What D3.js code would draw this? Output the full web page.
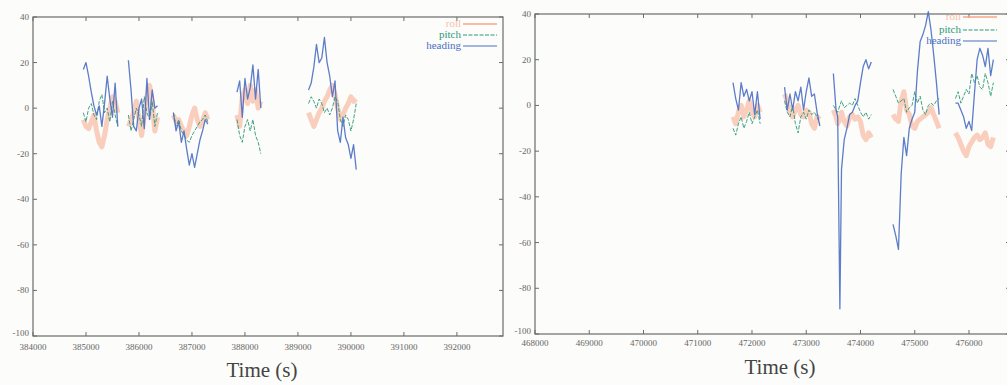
<!DOCTYPE html>
<html>
<head>
<meta charset="utf-8">
<script src="https://cdn.jsdelivr.net/npm/d3@7"></script>
<style>
  body { margin: 0; background: #fcfcfa; }
  svg { display: block; }
  .tick-label { font-family: "Liberation Serif", "DejaVu Serif", serif; font-size: 9px; fill: #666; }
  .axis-title { font-family: "Liberation Serif", "DejaVu Serif", serif; font-size: 21px; fill: #444; }
  .legend-label { font-family: "Liberation Serif", "DejaVu Serif", serif; font-size: 11px; }
</style>
</head>
<body>
<div id="chart"></div>
<script>
// tick values
const yTicks = [40, 20, 0, -20, -40, -60, -80, -100];
const leftXTicks = [384000, 385000, 386000, 387000, 388000, 389000, 390000, 391000, 392000];
const rightXTicks = [468000, 469000, 470000, 471000, 472000, 473000, 474000, 475000, 476000];
const seriesNames = ["roll", "pitch", "heading"];

// left panel, one inner array per recorded segment
const leftTime = [
    [384950, 385000, 385050, 385100, 385150, 385200, 385250, 385300, 385350, 385400, 385450, 385500, 385550, 385600],
    [385800, 385850, 385900, 385950, 386000, 386050, 386100, 386150, 386200, 386250, 386300, 386350],
    [386650, 386700, 386750, 386800, 386850, 386900, 386950, 387000, 387050, 387100, 387150, 387200, 387250, 387300],
    [387850, 387900, 387950, 388000, 388050, 388100, 388150, 388200, 388250, 388300],
    [389200, 389250, 389300, 389350, 389400, 389450, 389500, 389550, 389600, 389650, 389700, 389750, 389800, 389850, 389900, 389950, 390000, 390050, 390100]
];
const leftRoll = [
    [-5, -8, -9, -6, -3, -10, -15, -17, -12, -5, 0, 5, 3, -2],
    [-8, -5, -2, 3, -5, -12, -3, 5, 10, 2, -10, -4],
    [-3, -6, -5, -8, -10, -12, -8, -3, 0, -5, -8, -6, -2, -5],
    [-3, -8, 5, 8, 2, 10, 3, 8, 0, 3],
    [-2, -5, -8, -5, -2, 0, 3, 5, 8, 10, 6, 0, -5, -3, 0, 2, 5, 3, 4]
];
const leftPitch = [
    [-2, -6, 0, 2, -3, -5, 3, 6, -2, 0, -6, 3, -3, -8],
    [-3, -10, -5, 0, -3, -8, 5, -2, -5, 3, -8, -2],
    [-2, -8, -5, -10, -12, -14, -15, -12, -10, -8, -6, -5, -3, -6],
    [-5, -12, -15, -8, -5, -10, -5, -12, -15, -20],
    [2, 5, 3, 0, 4, 2, -2, 0, -3, 0, 5, 3, -5, -8, -3, -5, -10, -5, 2]
];
const leftHeading = [
    [17, 20, 14, 7, 1, -3, 1, -8, 2, 14, 4, -4, 11, -8],
    [21, 8, -8, -10, 0, 4, -9, 13, -5, 8, 0, 1],
    [-2, -10, -6, -15, -10, -18, -25, -20, -26, -20, -14, -10, -5, -7],
    [7, 12, -4, 13, 4, 9, 19, 4, 17, 0],
    [8, 11, 18, 28, 20, 22, 31, 20, 14, 5, 12, -10, -15, -4, -13, -16, -22, -16, -27]
];

// right panel
const rightTime = [
    [471650, 471700, 471750, 471800, 471850, 471900, 471950, 472000, 472050, 472100, 472150],
    [472600, 472650, 472700, 472750, 472800, 472850, 472900, 472950, 473000, 473050, 473100, 473150, 473200, 473250],
    [473500, 473550, 473580, 473620, 473650, 473700, 473750, 473800, 473850, 473900, 473950, 474000, 474050, 474100, 474150, 474200],
    [474600, 474650, 474700, 474750, 474800, 474850, 474900, 474950, 475000, 475050, 475100, 475150, 475200, 475250, 475300, 475350, 475400, 475450],
    [475750, 475800, 475850, 475900, 475950, 476000, 476050, 476100, 476150, 476200, 476250, 476300, 476350, 476400, 476450]
];
const rightRoll = [
    [-5, -8, -3, 0, -5, -2, 2, -3, -5, 0, -3],
    [5, 2, -3, -5, -2, 0, -4, -5, -2, -3, -8, -10, -5, -6],
    [-2, -5, -8, -6, -3, -7, -9, -5, -4, -6, -5, -7, -13, -15, -12, -14],
    [-4, -6, -7, 2, 6, -2, -4, -9, -10, -7, -6, -5, -4, -3, -1, -4, -7, -10],
    [-12, -14, -17, -20, -22, -18, -16, -14, -13, -15, -14, -12, -17, -18, -14]
];
const rightPitch = [
    [-10, -13, -8, -5, -10, -7, -3, -8, -5, -2, -8],
    [2, -3, -5, 0, -8, -12, -5, -3, -6, -2, -4, -3, -5, -8],
    [0, -2, -3, 0, 2, -1, 0, 1, 0, 3, 0, -3, -5, -3, -6, -4],
    [7, 4, 1, 2, 3, -3, -1, 0, 6, 1, 4, -2, -4, 0, 1, 0, 2, 3],
    [3, 6, 1, 4, 7, 5, 14, 10, 13, 8, 7, 14, 10, 4, 10]
];
const rightHeading = [
    [10, 3, -2, 10, 4, 7, 2, 6, -4, 6, -6],
    [8, -2, 5, -2, 6, 2, 8, -2, 6, 12, 4, 5, -3, -9],
    [14, -2, -5, -89, -28, -15, -10, -4, -3, 0, 2, 10, 17, 20, 16, 19],
    [-52, -57, -63, -30, -14, -22, -10, -6, -3, 15, 28, 31, 35, 41, 33, 22, 10, -4],
    [1, 1, -2, -5, -10, -7, -11, 5, 20, 25, 22, 17, 25, 13, 20]
];

const colors = { roll: "#f8a07e", pitch: "#2f9878", heading: "#4b6fc4" };

const W = 1007, H = 385;
const svg = d3.select("#chart").append("svg")
    .attr("width", W)
    .attr("height", H);

drawPanel({
    left: 33, right: 503, top: 17, bottom: 336,
    xDomain: [384000, 392870], xTicks: leftXTicks,
    time: leftTime, roll: leftRoll, pitch: leftPitch, heading: leftHeading,
    legendX: 463, legendY: [24, 35, 46], labelY: 350, titleX: 262, titleY: 377
});
drawPanel({
    left: 535, right: 1010, top: 14, bottom: 334,
    xDomain: [468000, 476756], xTicks: rightXTicks,
    time: rightTime, roll: rightRoll, pitch: rightPitch, heading: rightHeading,
    legendX: 963, legendY: [17, 30, 41], labelY: 346, titleX: 780, titleY: 374
});

function drawPanel(p) {
    const x = d3.scaleLinear().domain(p.xDomain).range([p.left, p.right]);
    const y = d3.scaleLinear().domain([-100, 40]).range([p.bottom, p.top]);
    const g = svg.append("g");

    // frame
    g.append("rect")
        .attr("x", p.left).attr("y", p.top)
        .attr("width", p.right - p.left).attr("height", p.bottom - p.top)
        .attr("fill", "none").attr("stroke", "#6b6b6b").attr("stroke-width", 1.2);

    // ticks on all four sides, pointing inwards
    const tk = 4;
    p.xTicks.forEach(function (t) {
        g.append("line").attr("x1", x(t)).attr("x2", x(t))
            .attr("y1", p.bottom).attr("y2", p.bottom - tk).attr("stroke", "#6b6b6b");
        g.append("line").attr("x1", x(t)).attr("x2", x(t))
            .attr("y1", p.top).attr("y2", p.top + tk).attr("stroke", "#6b6b6b");
        g.append("text").attr("class", "tick-label")
            .attr("x", x(t)).attr("y", p.labelY)
            .attr("text-anchor", "middle")
            .text(t);
    });
    yTicks.forEach(function (v) {
        g.append("line").attr("x1", p.left).attr("x2", p.left + tk)
            .attr("y1", y(v)).attr("y2", y(v)).attr("stroke", "#6b6b6b");
        g.append("line").attr("x1", p.right).attr("x2", p.right - tk)
            .attr("y1", y(v)).attr("y2", y(v)).attr("stroke", "#6b6b6b");
        g.append("text").attr("class", "tick-label")
            .attr("x", p.left - 4).attr("y", y(v) + (v === -100 ? 0 : 3))
            .attr("text-anchor", "end")
            .text(v);
    });

    g.append("text").attr("class", "axis-title")
        .attr("x", p.titleX).attr("y", p.titleY)
        .attr("text-anchor", "middle")
        .text("Time  (s)");

    const line = d3.line()
        .x(function (d) { return x(d[0]); })
        .y(function (d) { return y(d[1]); });

    const styles = {
        roll: { width: 5, opacity: 0.5, dash: null },
        pitch: { width: 1, opacity: 0.9, dash: "4,1.5" },
        heading: { width: 1.3, opacity: 0.9, dash: null }
    };

    seriesNames.forEach(function (name) {
        const segs = p[name];
        segs.forEach(function (vals, i) {
            const pts = vals.map(function (v, j) { return [p.time[i][j], v]; });
            g.append("path")
                .datum(pts)
                .attr("d", line)
                .attr("fill", "none")
                .attr("stroke", colors[name])
                .attr("stroke-width", styles[name].width)
                .attr("stroke-opacity", styles[name].opacity)
                .attr("stroke-dasharray", styles[name].dash)
                .attr("stroke-linejoin", "round");
        });
    });

    // legend
    seriesNames.forEach(function (name, i) {
        const ly = p.legendY[i];
        g.append("text").attr("class", "legend-label")
            .attr("x", p.legendX - 2).attr("y", ly + 3)
            .attr("text-anchor", "end")
            .attr("fill", colors[name])
            .attr("fill-opacity", name === "roll" ? 0.7 : 1)
            .text(name);
        g.append("line")
            .attr("x1", p.legendX).attr("x2", p.legendX + 34)
            .attr("y1", ly).attr("y2", ly)
            .attr("stroke", colors[name])
            .attr("stroke-width", name === "roll" ? 2 : 1)
            .attr("stroke-opacity", name === "roll" ? 0.7 : 1)
            .attr("stroke-dasharray", styles[name].dash);
    });
}
</script>
</body>
</html>
